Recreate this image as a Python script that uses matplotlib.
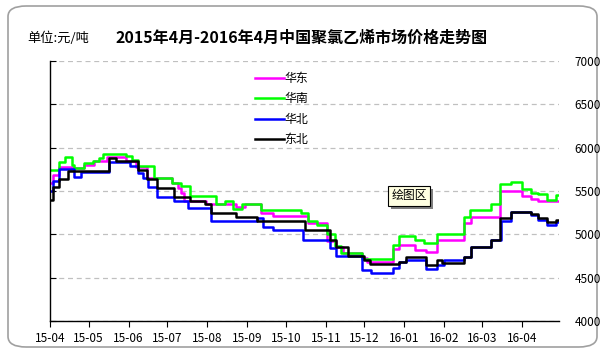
import pandas as pd
import matplotlib
matplotlib.use('Agg')
from matplotlib import pyplot as plt
import matplotlib.dates as mdates
from matplotlib.patches import FancyBboxPatch, Rectangle

plt.rcParams['font.family'] = ['Noto Sans CJK SC', 'DejaVu Sans']

# 华东
hd_dates = ['2015-04-01', '2015-04-03', '2015-04-08', '2015-04-18', '2015-04-27', '2015-05-05',
            '2015-05-15', '2015-05-30', '2015-06-07', '2015-06-15', '2015-07-05', '2015-07-09',
            '2015-07-12', '2015-07-14', '2015-07-31', '2015-08-23', '2015-08-30', '2015-09-12',
            '2015-09-21', '2015-10-18', '2015-11-02', '2015-11-09', '2015-11-14', '2015-11-29',
            '2015-12-03', '2015-12-23', '2015-12-28', '2016-01-09', '2016-01-18', '2016-01-26',
            '2016-02-16', '2016-02-22', '2016-03-15', '2016-04-01', '2016-04-08', '2016-04-14',
            '2016-04-29']
hd_price = [5590, 5690, 5780, 5760, 5800, 5850, 5890, 5850, 5780, 5650, 5590, 5530,
            5475, 5380, 5350, 5320, 5350, 5250, 5215, 5135, 4920, 4850, 4780, 4725,
            4685, 4830, 4880, 4820, 4800, 4935, 5135, 5195, 5495, 5445, 5405, 5390,
            5390]

# 华南
hn_dates = ['2015-04-01', '2015-04-08', '2015-04-13', '2015-04-18', '2015-04-20', '2015-04-27',
            '2015-05-04', '2015-05-09', '2015-05-12', '2015-05-30', '2015-06-04', '2015-06-08',
            '2015-06-21', '2015-07-05', '2015-07-12', '2015-07-19', '2015-08-08', '2015-08-15',
            '2015-08-21', '2015-08-28', '2015-09-12', '2015-10-13', '2015-10-18', '2015-10-25',
            '2015-11-02', '2015-11-08', '2015-11-13', '2015-11-29', '2015-12-23', '2015-12-28',
            '2016-01-09', '2016-01-16', '2016-01-26', '2016-02-16', '2016-02-21', '2016-03-08',
            '2016-03-15', '2016-03-24', '2016-04-01', '2016-04-08', '2016-04-14', '2016-04-21',
            '2016-04-28', '2016-04-29']
hn_price = [5740, 5840, 5890, 5800, 5760, 5820, 5850, 5880, 5930, 5900, 5860, 5790,
            5650, 5590, 5560, 5440, 5350, 5390, 5290, 5350, 5280, 5245, 5150, 5110,
            5000, 4870, 4780, 4710, 4880, 4980, 4935, 4900, 5000, 5200, 5285, 5350,
            5580, 5600, 5520, 5480, 5465, 5400, 5450, 5450]

# 华北
hb_dates = ['2015-04-01', '2015-04-03', '2015-04-08', '2015-04-20', '2015-04-25', '2015-05-17',
            '2015-06-02', '2015-06-08', '2015-06-12', '2015-06-16', '2015-06-23', '2015-07-06',
            '2015-07-17', '2015-08-04', '2015-09-09', '2015-09-13', '2015-09-21', '2015-10-14',
            '2015-11-04', '2015-11-09', '2015-11-29', '2015-12-06', '2015-12-23', '2015-12-28',
            '2016-01-02', '2016-01-18', '2016-01-26', '2016-02-01', '2016-02-16', '2016-02-22',
            '2016-03-08', '2016-03-16', '2016-03-24', '2016-04-08', '2016-04-14', '2016-04-21',
            '2016-04-28', '2016-04-29']
hb_price = [5495, 5610, 5750, 5665, 5715, 5840, 5790, 5705, 5650, 5550, 5435, 5380,
            5300, 5150, 5185, 5090, 5045, 4935, 4840, 4745, 4590, 4550, 4610, 4685,
            4700, 4600, 4650, 4705, 4735, 4850, 4935, 5150, 5255, 5225, 5170, 5110,
            5140, 5140]

# 东北
db_dates = ['2015-04-01', '2015-04-03', '2015-04-08', '2015-04-15', '2015-05-17', '2015-05-22',
            '2015-06-08', '2015-06-15', '2015-06-23', '2015-07-06', '2015-07-19', '2015-07-30',
            '2015-08-04', '2015-08-23', '2015-09-09', '2015-10-16', '2015-11-04', '2015-11-09',
            '2015-11-18', '2015-12-01', '2015-12-05', '2015-12-28', '2016-01-02', '2016-01-18',
            '2016-01-26', '2016-01-30', '2016-02-16', '2016-02-22', '2016-03-08', '2016-03-15',
            '2016-03-24', '2016-04-08', '2016-04-14', '2016-04-21', '2016-04-28', '2016-04-29']
db_price = [5400, 5550, 5635, 5735, 5880, 5850, 5745, 5640, 5540, 5435, 5380, 5350,
            5245, 5195, 5150, 5045, 4935, 4850, 4745, 4700, 4655, 4685, 4735, 4650,
            4700, 4665, 4735, 4850, 4935, 5185, 5260, 5230, 5185, 5145, 5170, 5170]

month_ticks = pd.date_range('2015-04-01', '2016-04-01', freq='MS')
y_ticks = [4000, 4500, 5000, 5500, 6000, 6500, 7000]

fig = plt.figure(figsize=(6.05, 3.52), dpi=100)
W, H = 605, 352

# rounded chart frame, kept behind the axes
frame = FancyBboxPatch((8 / W, 5 / H), 589 / W, 341 / H, boxstyle='round,pad=0,rounding_size=0.03',
                       transform=fig.transFigure, facecolor='white', edgecolor='#a0a0a0', lw=1.2,
                       zorder=-10)
fig.patches.append(frame)

ax = fig.add_axes([50 / W, 31 / H, 509 / W, 260 / H])
ax.set_facecolor('none')

series = [(hd_dates, hd_price, '#ff00ff', '华东'),
          (hn_dates, hn_price, '#00ff00', '华南'),
          (hb_dates, hb_price, '#0000ff', '华北'),
          (db_dates, db_price, '#000000', '东北')]
for d, v, c, name in series:
    ax.plot(pd.to_datetime(d), v, color=c, lw=1.8, drawstyle='steps-post', label=name)

ax.set_ylim(4000, 7000)
ax.set_yticks(y_ticks)
ax.set_xlim(pd.Timestamp('2015-04-01'), pd.Timestamp('2016-04-30'))
ax.set_xticks(month_ticks)
ax.xaxis.set_major_formatter(mdates.DateFormatter('%y-%m'))
ax.grid(axis='y', color='#c0c0c0', ls=(0, (4, 3)), lw=0.9)
ax.set_axisbelow(True)

for s in ['top', 'right']:
    ax.spines[s].set_visible(False)
ax.spines['left'].set_linewidth(1.0)
ax.spines['bottom'].set_linewidth(1.0)

ax.tick_params(axis='y', left=True, right=False, labelleft=False, labelright=True,
               direction='in', length=4, pad=11, labelsize=8.5)
ax.tick_params(axis='x', direction='out', length=4, pad=4, labelsize=8.5)

leg = ax.legend(loc='upper left', bbox_to_anchor=(249 / W, 1 - 66 / H), bbox_transform=fig.transFigure,
                frameon=False, fontsize=8.6, handlelength=2.4, handletextpad=0.05,
                labelspacing=0.62, borderpad=0)

fig.text(302 / W, 1 - 38 / H, '2015年4月-2016年4月中国聚氯乙烯市场价格走势图',
         ha='center', va='center', fontsize=11.5, fontweight='bold')
fig.text(27 / W, 1 - 38 / H, '单位:元/吨', ha='left', va='center', fontsize=9.5)

# Excel "绘图区" tooltip
fig.patches.append(Rectangle((391 / W, 1 - 209 / H), 42 / W, 20 / H, transform=fig.transFigure,
                             facecolor='#808080', edgecolor='none', zorder=5))
fig.patches.append(Rectangle((388 / W, 1 - 206 / H), 42 / W, 20 / H, transform=fig.transFigure,
                             facecolor='#ffffe1', edgecolor='black', lw=0.8, zorder=6))
fig.text(409 / W, 1 - 196 / H, '绘图区', ha='center', va='center', fontsize=8.6, zorder=7)

fig.savefig('out.png', dpi=100)
